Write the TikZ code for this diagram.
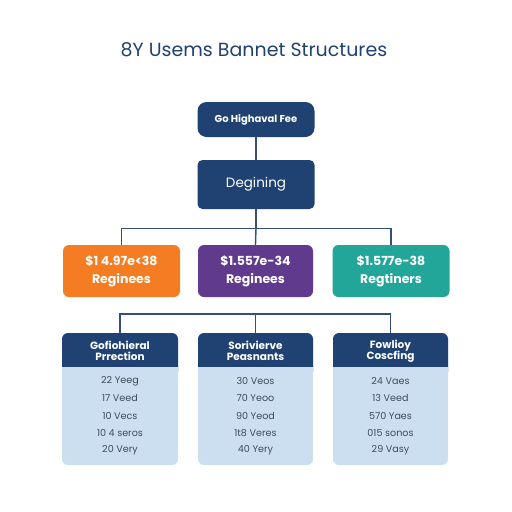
\documentclass[tikz,border=0pt]{standalone}
\usepackage{fontspec}
\setmainfont{Poppins}
\usepackage{tikz}
\usetikzlibrary{positioning, calc}
\definecolor{navy}{HTML}{1F4272}
\definecolor{wire}{HTML}{34507A}
\definecolor{orangebox}{HTML}{F47C22}
\definecolor{purplebox}{HTML}{5F3A8D}
\definecolor{tealbox}{HTML}{22A699}
\definecolor{cardbody}{HTML}{CCDFF0}
\definecolor{rowtext}{HTML}{3E4C60}
\tikzset{
  navybox/.style={fill=navy, text=white, rounded corners=9pt, font=\bfseries\fontsize{10}{12}\selectfont},
  tierbox/.style={minimum width=117pt, minimum height=52pt, rounded corners=6pt, text=white, align=center,
    font=\bfseries\fontsize{12.5}{18}\selectfont},
  headtxt/.style={font=\bfseries\fontsize{10.5}{11.5}\selectfont, text=white, align=center},
  link/.style={draw=wire, line width=1.4pt},
  rowtxt/.style={font=\fontsize{9.6}{10}\selectfont, text=rowtext}
}
\begin{document}
\begin{tikzpicture}[x=1pt, y=-1pt]
\useasboundingbox (0,0) rectangle (512,512);
% title
\node[font=\fontsize{19}{22}\selectfont, text=navy] (title) at (254,50) {8Y Usems Bannet Structures};
%
\node[navybox, minimum width=117pt, minimum height=35pt] (fee) at (256,119.5) {Go Highaval Fee};
\node[navybox, minimum width=117pt, minimum height=49pt, rounded corners=5pt,
  font=\fontsize{13.5}{15}\selectfont] (begin) at (256,184.5) {Degining};
% tiers
\node[tierbox, fill=orangebox] (tierA) at (121.5,271) {\$1 4.97e<38\\Reginees};
\node[tierbox, fill=purplebox, minimum width=115pt] (tierB) at (255.5,271) {\$1.557e-34\\Reginees};
\node[tierbox, fill=tealbox] (tierC) at (391,271) {\$1.577e-38\\Regtiners};
%
\draw[link] (fee.south) -- (begin.north);
\draw[link] (begin.south) -- ++(0,19) coordinate (upbus);
\draw[link] (tierA.north) |- (upbus) -| (tierC.north);
\draw[link] (upbus) -- (tierB.north);
% cards
\foreach \cx/\nm/\w in {120/cardA/116, 255.5/cardB/115, 390.5/cardC/115}{
  \fill[cardbody, rounded corners=6pt] (\cx-\w/2,333) rectangle (\cx+\w/2,465);
  \fill[navy, rounded corners=6pt] (\cx-\w/2,372) -- (\cx-\w/2,333) -- (\cx+\w/2,333) -- (\cx+\w/2,372);
  \fill[navy] (\cx-\w/2,360) rectangle (\cx+\w/2,367);
  \fill[cardbody] (\cx-\w/2,367) rectangle (\cx+\w/2,373);
  \coordinate (\nm) at (\cx,333);
}
\node[headtxt] (headA) at (120,351) {Gofiohieral\\Prrection};
\node[headtxt] (headB) at (255.5,351) {Sorivierve\\Peasnants};
\node[headtxt] (headC) at (390.5,351) {Fowlioy\\Coscfing};
%
\node[rowtxt] (a1) at (120,381) {22 Yeeg};
\node[rowtxt] (a2) at (120,398) {17 Veed};
\node[rowtxt] (a3) at (120,416) {10 Vecs};
\node[rowtxt] (a4) at (120,433) {10 4 seros};
\node[rowtxt] (a5) at (120,450) {20 Very};
%
\node[rowtxt] (b1) at (255.5,381) {30 Veos};
\node[rowtxt] (b2) at (255.5,398) {70 Yeoo};
\node[rowtxt] (b3) at (255.5,416) {90 Yeod};
\node[rowtxt] (b4) at (255.5,433) {1t8 Veres};
\node[rowtxt] (b5) at (255.5,450) {40 Yery};
%
\node[rowtxt] (c1) at (390.5,381) {24 Vaes};
\node[rowtxt] (c2) at (390.5,398) {13 Veed};
\node[rowtxt] (c3) at (390.5,416) {570 Yaes};
\node[rowtxt] (c4) at (390.5,433) {015 sonos};
\node[rowtxt] (c5) at (390.5,450) {29 Vasy};
% lower bus
\coordinate (lowbus) at (255.5,314);
\draw[link] (cardA) |- (lowbus) -| (cardC);
\draw[link] (lowbus) -- (cardB);
\end{tikzpicture}
\end{document}
